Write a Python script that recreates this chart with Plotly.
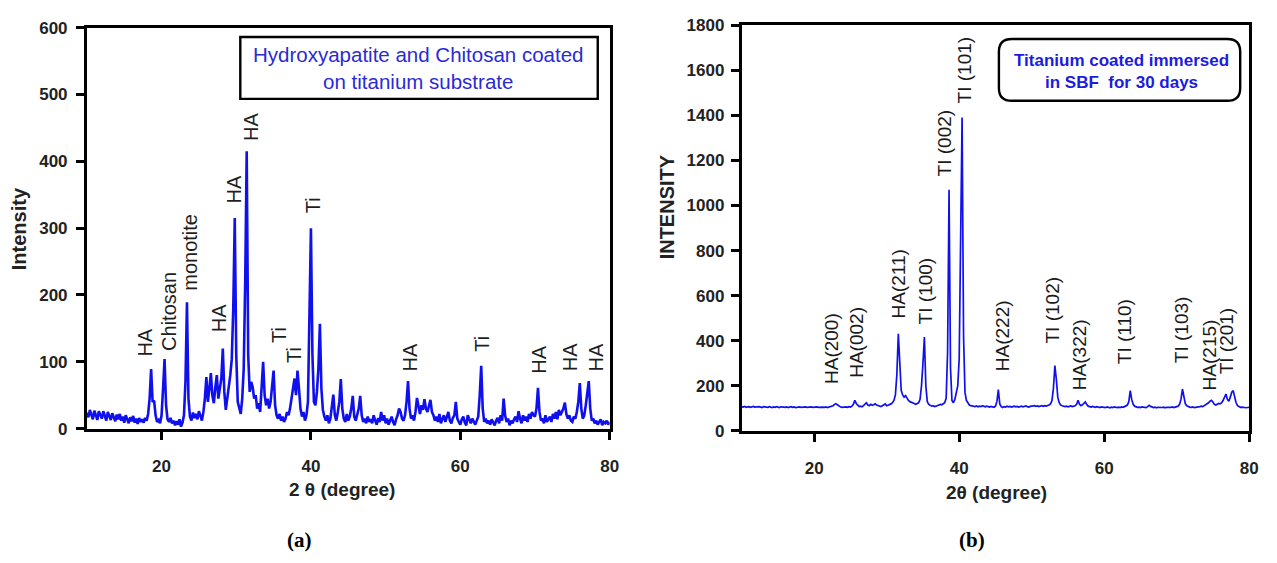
import numpy as np
import plotly.graph_objects as go

W, H = 1277, 563

# ---------------- data ----------------
two_theta = np.round(10 + 0.2 * np.arange(351), 1)   # 10.0 ... 80.0 sampling grid

# panel (a): Hydroxyapatite + chitosan coated Ti
intensity_a = (
    [24, 17, 28, 19, 14, 27, 21, 13, 26, 19] +      # 10.0-11.8
    [15, 26, 18, 12, 25, 20, 13, 23, 17, 11] +      # 12
    [21, 14, 22, 12, 18, 9, 20, 13, 8, 17] +        # 14
    [11, 19, 9, 15, 7, 16, 10, 14, 9, 16] +         # 16
    [12, 22, 45, 89, 40, 42, 20, 10, 13, 8] +       # 18
    [20, 60, 104, 35, 14, 10, 16, 8, 12, 5] +       # 20
    [11, 6, 14, 3, 9, 20, 70, 189, 45, 18] +        # 22
    [12, 24, 16, 22, 14, 26, 18, 12, 25, 45] +      # 24
    [77, 40, 60, 83, 50, 38, 62, 80, 45, 58] +      # 26
    [75, 120, 55, 28, 45, 60, 80, 104, 180, 315] +  # 28
    [110, 40, 28, 22, 45, 90, 220, 415, 110, 55] +  # 30
    [70, 62, 45, 50, 30, 38, 25, 55, 100, 50] +     # 32
    [35, 45, 30, 40, 60, 87, 35, 20, 15, 22] +      # 34
    [12, 18, 10, 15, 25, 20, 30, 45, 60, 75] +      # 36
    [50, 87, 60, 30, 18, 25, 12, 20, 40, 150] +     # 38
    [300, 110, 40, 35, 55, 90, 157, 60, 28, 18] +   # 40
    [12, 20, 8, 15, 30, 51, 20, 12, 25, 40] +       # 42
    [74, 30, 15, 10, 22, 12, 18, 30, 49, 18] +      # 44
    [12, 20, 30, 49, 20, 10, 15, 8, 18, 10] +       # 46
    [14, 8, 20, 12, 6, 16, 10, 25, 12, 20] +        # 48
    [8, 15, 6, 12, 18, 10, 5, 14, 20, 30] +         # 50
    [25, 15, 12, 20, 40, 71, 30, 15, 20, 12] +      # 52
    [25, 46, 30, 22, 35, 28, 44, 30, 25, 35] +      # 54
    [43, 25, 20, 12, 18, 10, 22, 8, 15, 20] +       # 56
    [10, 18, 25, 12, 8, 16, 20, 40, 15, 10] +       # 58
    [6, 14, 18, 9, 5, 20, 12, 8, 15, 10] +          # 60
    [6, 12, 18, 50, 94, 30, 10, 15, 8, 12] +        # 62
    [6, 14, 10, 5, 12, 16, 8, 20, 12, 45] +         # 64
    [20, 10, 15, 5, 12, 8, 14, 18, 10, 26] +        # 66
    [15, 8, 20, 12, 18, 10, 22, 15, 25, 20] +       # 68
    [18, 30, 61, 25, 12, 15, 8, 20, 10, 14] +       # 70
    [18, 10, 22, 15, 25, 14, 28, 20, 25, 30] +      # 72
    [39, 22, 15, 20, 12, 10, 18, 15, 25, 40] +      # 74
    [68, 30, 15, 20, 35, 50, 71, 30, 12, 15] +      # 76
    [8, 12, 6, 10, 14, 5, 10, 8, 12, 6] +           # 78
    [10]                                            # 80
)

# panel (b): Ti coated immersed in SBF for 30 days
intensity_b = (
    [108, 106, 109, 105, 107, 108, 105, 106, 109, 106] +
    [107, 105, 108, 106, 104, 108, 106, 107, 105, 108] +
    [106, 104, 107, 105, 108, 106, 104, 107, 105, 106] +
    [105, 107, 104, 106, 108, 105, 107, 104, 106, 105] +
    [107, 105, 106, 104, 107, 105, 106, 104, 107, 105] +
    [106, 104, 107, 105, 106, 104, 106, 105, 107, 104] +
    [106, 105, 108, 112, 118, 121, 116, 110, 107, 105] +
    [106, 104, 107, 105, 108, 106, 110, 118, 136, 122] +
    [112, 108, 110, 107, 112, 118, 125, 115, 112, 118] +
    [114, 116, 120, 115, 112, 110, 108, 112, 115, 120] +
    [112, 114, 116, 120, 125, 135, 160, 250, 431, 270] +
    [180, 160, 150, 157, 145, 135, 130, 128, 125, 122] +
    [118, 120, 125, 140, 200, 300, 417, 200, 130, 118] +
    [112, 110, 112, 108, 110, 112, 115, 118, 116, 120] +
    [125, 145, 350, 1070, 280, 135, 125, 140, 165, 200] +
    [320, 800, 1390, 420, 170, 135, 122, 115, 112, 110] +
    [110, 108, 111, 107, 110, 108, 112, 109, 107, 110] +
    [108, 106, 109, 107, 105, 110, 130, 183, 120, 108] +
    [104, 108, 106, 110, 107, 109, 106, 108, 110, 107] +
    [109, 106, 108, 110, 107, 109, 111, 108, 106, 109] +
    [110, 108, 112, 109, 111, 108, 110, 112, 109, 112] +
    [110, 112, 115, 120, 135, 190, 290, 230, 150, 125] +
    [115, 112, 110, 108, 110, 107, 109, 111, 108, 110] +
    [112, 118, 136, 118, 112, 116, 122, 129, 117, 110] +
    [108, 106, 109, 107, 105, 108, 106, 104, 107, 105] +
    [106, 104, 107, 105, 103, 106, 104, 107, 105, 104] +
    [106, 104, 107, 105, 108, 110, 115, 130, 179, 140] +
    [118, 110, 107, 105, 106, 104, 107, 105, 106, 104] +
    [108, 114, 109, 105, 104, 106, 103, 105, 104, 106] +
    [104, 106, 103, 105, 104, 106, 105, 107, 104, 106] +
    [108, 110, 118, 140, 186, 145, 120, 112, 108, 106] +
    [105, 107, 104, 106, 105, 107, 108, 110, 108, 112] +
    [115, 118, 125, 132, 136, 128, 118, 115, 118, 122] +
    [120, 125, 135, 150, 164, 140, 132, 150, 172, 179] +
    [150, 125, 112, 108, 105, 106, 104, 105, 103, 104] +
    [105]
)

# peak labels (text, 2theta, intensity at label base)
labels_a = ["HA", "Chitosan", "monotite", "HA", "HA", "HA", "Ti", "Ti", "Ti",
            "HA", "Ti", "HA", "HA", "HA"]
labels_a_x = [17.8, 20.9, 23.8, 27.8, 29.7, 31.9, 35.7, 37.7, 40.2,
              53.3, 62.9, 70.6, 74.7, 78.2]
labels_a_y = [105, 113, 204, 141, 334, 428, 125, 95, 320,
              83, 112, 80, 83, 83]

labels_b = ["HA(200)", "HA(002)", "HA(211)", "TI (100)", "TI (002)", "TI (101)",
            "HA(222)", "TI (102)", "HA(322)", "TI (110)", "TI (103)", "HA(215)",
            "TI (201)"]
labels_b_x = [22.4, 25.8, 31.6, 35.3, 38.0, 40.7, 46.0, 52.9, 56.7, 62.9,
              70.6, 74.5, 76.9]
labels_b_y = [200, 226, 489, 462, 1121, 1443, 257, 380, 171, 286, 294, 170, 243]

x_ticks = [20, 40, 60, 80]
y_ticks_a = [0, 100, 200, 300, 400, 500, 600]
y_ticks_b = [0, 200, 400, 600, 800, 1000, 1200, 1400, 1600, 1800]

# ---------------- figure ----------------
def px(x):
    return x / W

def py(y):
    return 1 - y / H

SANS = "Liberation Sans, Arial, sans-serif"
BLUE = "#1010ee"

fig = go.Figure()
fig.add_trace(go.Scatter(x=two_theta, y=intensity_a, mode="lines",
                         line=dict(color=BLUE, width=2.6), xaxis="x", yaxis="y",
                         showlegend=False, hoverinfo="skip"))
fig.add_trace(go.Scatter(x=two_theta, y=intensity_b, mode="lines",
                         line=dict(color=BLUE, width=1.7), xaxis="x2", yaxis="y2",
                         showlegend=False, hoverinfo="skip"))

axis_common = dict(showline=True, linecolor="black", linewidth=2.8, mirror=True,
                   ticks="outside", ticklen=8, tickwidth=2.5, tickcolor="black",
                   showgrid=False, zeroline=False,
                   tickfont=dict(family=SANS, size=17, color="#222", weight="bold"))

fig.update_layout(
    width=W, height=H, margin=dict(l=0, r=0, t=0, b=0),
    paper_bgcolor="white", plot_bgcolor="white",
    xaxis=dict(domain=[px(87.5), px(614)], range=[10, 80], tickvals=x_ticks,
               anchor="y", ticklabelstandoff=12, **axis_common),
    yaxis=dict(domain=[py(434.3), py(19.3)], range=[0, 600], tickvals=y_ticks_a,
               anchor="x", ticklabelstandoff=5, **axis_common),
    xaxis2=dict(domain=[px(747), px(1258)], range=[10, 80], tickvals=x_ticks,
                anchor="y2", ticklabelstandoff=12, **axis_common),
    yaxis2=dict(domain=[py(436.7), py(16.7)], range=[0, 1800], tickvals=y_ticks_b,
                anchor="x2", ticklabelstandoff=3, **axis_common),
)

ann = []
for t, x, y in zip(labels_a, labels_a_x, labels_a_y):
    ann.append(dict(text=t, x=x, y=y, xref="x", yref="y", textangle=-90,
                    xanchor="center", yanchor="bottom", showarrow=False,
                    font=dict(family=SANS, size=20, color="#1e1e1e")))
for t, x, y in zip(labels_b, labels_b_x, labels_b_y):
    ann.append(dict(text=t, x=x, y=y, xref="x2", yref="y2", textangle=-90,
                    xanchor="center", yanchor="bottom", showarrow=False,
                    font=dict(family=SANS, size=19, color="#1a1a1a")))

def paper_text(text, x, y, size, angle=0, family=SANS, color="#222", bold=True):
    return dict(text=(f"<b>{text}</b>" if bold else text), x=px(x), y=py(y),
                xref="paper", yref="paper", textangle=angle, showarrow=False,
                xanchor="center", yanchor="middle",
                font=dict(family=family, size=size, color=color))

ann += [
    paper_text("Intensity", 19, 227, 20, angle=-90),
    paper_text("2 θ (degree)", 344, 497, 19),
    paper_text("INTENSITY", 672, 205, 20, angle=-90),
    paper_text("2θ (degree)", 1004, 500, 19),
    paper_text("(a)", 302, 550, 21, family="Liberation Serif, Times New Roman, serif", color="black"),
    paper_text("(b)", 979, 550, 21, family="Liberation Serif, Times New Roman, serif", color="black"),
    paper_text("Hydroxyapatite and Chitosan coated<br>on titanium substrate", 421, 61, 20.5,
               color="#2a2ad8", bold=False),
    paper_text("Titanium coated immersed<br>in SBF\u00a0 for 30 days", 1129, 65, 17,
               color="#1c1ce0"),
]
fig.update_layout(annotations=ann)

# text boxes
shapes = [dict(type="rect", xref="paper", yref="paper",
               x0=px(242), x1=px(602), y0=py(93), y1=py(29),
               line=dict(color="black", width=2.4), fillcolor="rgba(0,0,0,0)")]

def rounded_path(x0, y0, x1, y1, r):
    pts = [
        f"M {px(x0 + r)},{py(y0)}",
        f"L {px(x1 - r)},{py(y0)}",
        f"Q {px(x1)},{py(y0)} {px(x1)},{py(y0 + r)}",
        f"L {px(x1)},{py(y1 - r)}",
        f"Q {px(x1)},{py(y1)} {px(x1 - r)},{py(y1)}",
        f"L {px(x0 + r)},{py(y1)}",
        f"Q {px(x0)},{py(y1)} {px(x0)},{py(y1 - r)}",
        f"L {px(x0)},{py(y0 + r)}",
        f"Q {px(x0)},{py(y0)} {px(x0 + r)},{py(y0)}",
        "Z",
    ]
    return " ".join(pts)

shapes.append(dict(type="path", xref="paper", yref="paper",
                   path=rounded_path(1006, 31, 1249, 95, 13),
                   line=dict(color="black", width=2.4)))
fig.update_layout(shapes=shapes)

fig.write_html("out.html", config={"displayModeBar": False},
               post_script="document.body.style.margin='0px';document.body.style.overflow='hidden';")
